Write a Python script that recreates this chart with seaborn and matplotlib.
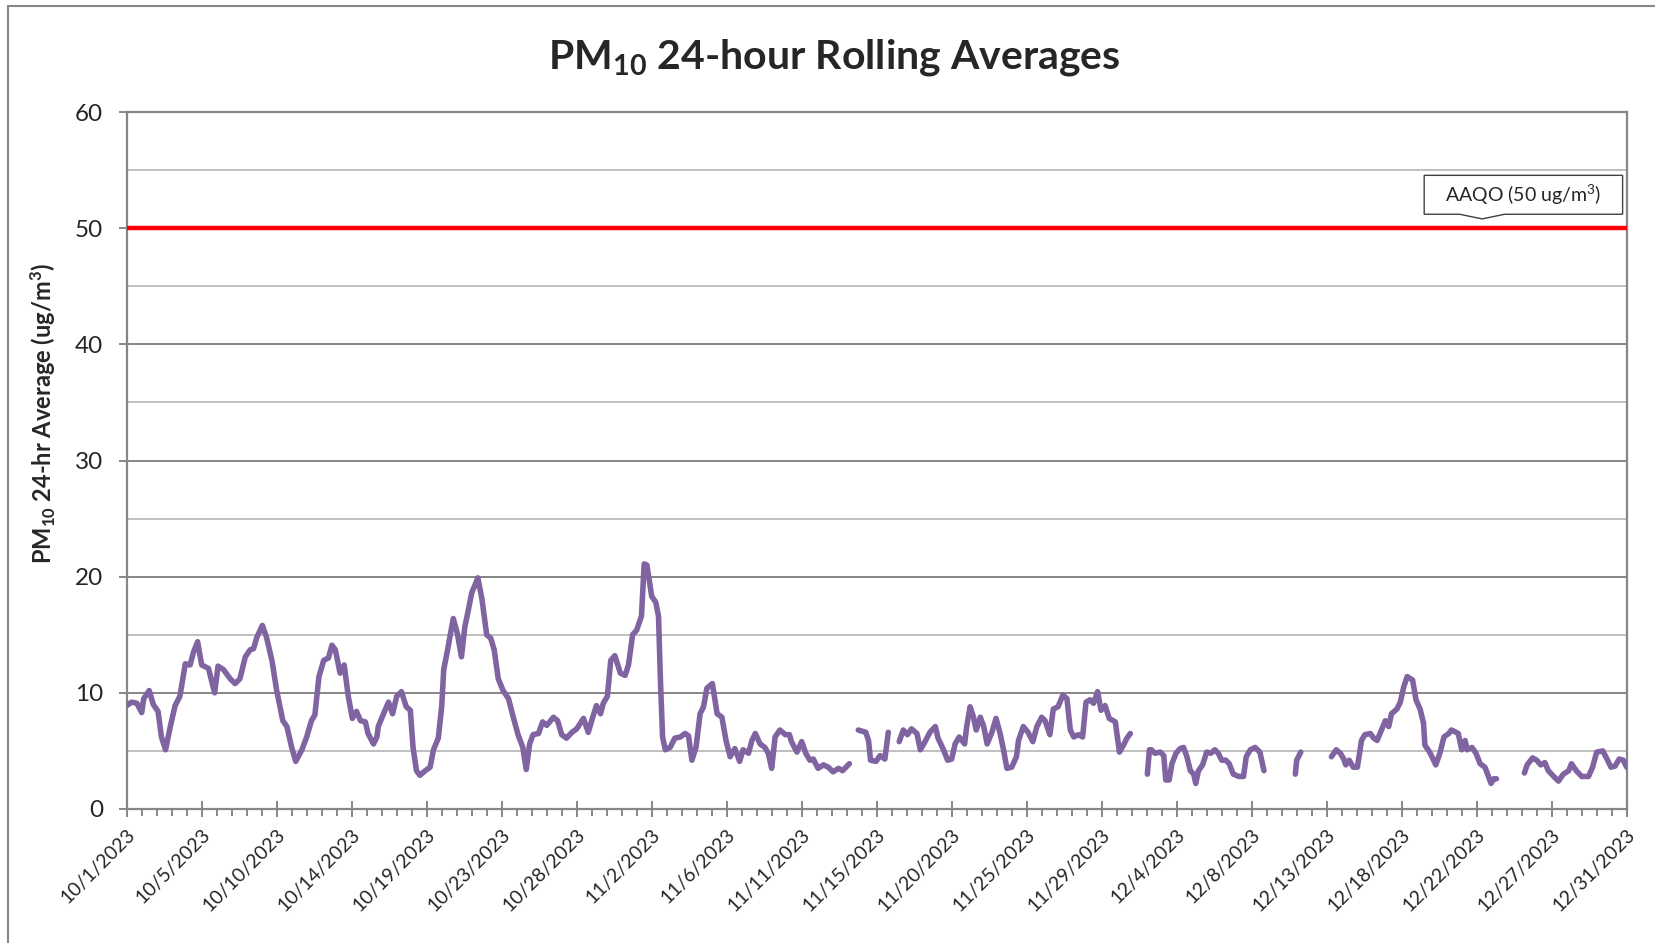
import numpy as np
import pandas as pd
import matplotlib
matplotlib.use("Agg")
import matplotlib.pyplot as plt
from matplotlib.lines import Line2D
from matplotlib.patches import Polygon
import seaborn as sns


# hours since 10/1/2023 00:00 -- NaN marks a break in the record
hours = [
    0, 7, 15, 22, 25, 33, 39, 46, 51, 57, 64, 71, 78, 86, 93, 98, 104, 110, 120, 129,
    134, 142, 152, 159, 166, 174, 181, 186, 191, 199, 205, 213, 220, 229, 235, 242, 248, 257, 264, 271,
    276, 282, 289, 296, 301, 306, 313, 319, 325, 331, 337, 343, 350, 354, 362, 367, 369, 376, 384, 390,
    396, 403, 410, 416, 420, 425, 430, 438, 445, 450, 457, 462, 465, 470, 476, 479, 485, 491, 496, 501,
    506, 511, 515, 521, 528, 534, 539, 545, 552, 560, 567, 574, 581, 586, 591, 596, 604, 610, 616, 626,
    632, 638, 645, 653, 660, 670, 677, 683, 689, 695, 699, 705, 710, 716, 724, 731, 736, 742, 748, 755,
    759, 763, 770, 776, 780, 783, 786, 790, 797, 804, 812, 819, 824, 829, 835, 841, 846, 851, 859, 866,
    873, 879, 885, 892, 899, 904, 912, 917, 922, 929, 936, 941, 946, 951, 958, 966, 972, 975, 983, 990,
    996, 1002, 1007, 1014, 1022, 1029, 1036, 1044, 1050, 1060, np.nan,
    1073, 1084, 1088, 1091, 1099, 1105, 1112, 1117, np.nan,
    1133, 1139, 1145, 1151, 1159, 1164, 1171, 1178, 1186, 1190, 1198, 1204, 1210, 1215, 1221, 1229, 1232, 1237, 1242, 1246,
    1252, 1257, 1262, 1269, 1275, 1281, 1286, 1291, 1298, 1305, 1308, 1315, 1322, 1329, 1335, 1342, 1347, 1354, 1359, 1366,
    1373, 1379, 1384, 1389, 1396, 1402, 1407, 1413, 1418, 1424, 1429, 1435, 1441, 1450, 1456, 1462, 1467, 1472, np.nan,
    1497, 1500, 1503, 1508, 1516, 1521, 1524, 1529, 1533, 1539, 1545, 1550, 1555, 1560, 1565, 1568, 1572, 1578, 1584, 1590,
    1596, 1601, 1606, 1612, 1617, 1623, 1631, 1638, 1642, 1648, 1655, 1662, 1668, np.nan,
    1714, 1716, 1722, np.nan,
    1767, 1774, 1780, 1785, 1788, 1793, 1799, 1805, 1809, 1811, 1816, 1824, 1829, 1834, 1841, 1846, 1851, 1855, 1863, 1868,
    1873, 1878, 1886, 1891, 1897, 1902, 1904, 1911, 1916, 1920, 1926, 1932, 1939, 1943, 1953, 1958, 1963, 1966, 1973, 1979,
    1985, 1992, 1996, 2001, 2005, 2009, np.nan,
    2050, 2054, 2062, 2068, 2074, 2080, 2085, 2093, 2100, 2107, 2115, 2119, 2126, 2134, 2144, 2150, 2156, 2165, 2172, 2177,
    2183, 2189, 2195, 2200,
]

pm10 = [
    8.9, 9.2, 9.1, 8.3, 9.5, 10.2, 9.0, 8.4, 6.2, 5.1, 7.1, 8.9, 9.7, 12.5, 12.4, 13.5, 14.4, 12.4, 12.1, 10.0,
    12.3, 12.0, 11.2, 10.8, 11.2, 13.1, 13.7, 13.8, 14.8, 15.8, 14.8, 12.8, 10.2, 7.6, 7.1, 5.3, 4.1, 5.1, 6.2, 7.6,
    8.1, 11.4, 12.8, 13.0, 14.1, 13.7, 11.7, 12.4, 9.7, 7.8, 8.4, 7.6, 7.5, 6.5, 5.6, 6.2, 7.1, 8.1, 9.2, 8.2,
    9.7, 10.1, 8.8, 8.5, 5.3, 3.3, 2.9, 3.3, 3.6, 5.1, 6.1, 8.8, 12.0, 13.5, 15.4, 16.4, 15.1, 13.1, 15.7, 17.1,
    18.6, 19.3, 19.9, 18.1, 15.0, 14.7, 13.7, 11.2, 10.2, 9.5, 7.9, 6.4, 5.3, 3.4, 5.6, 6.4, 6.5, 7.5, 7.2, 7.9,
    7.6, 6.4, 6.1, 6.6, 6.9, 7.8, 6.6, 7.8, 8.9, 8.2, 9.1, 9.7, 12.8, 13.2, 11.7, 11.5, 12.4, 15.0, 15.4, 16.6,
    21.1, 21.0, 18.3, 17.8, 16.6, 10.8, 6.2, 5.1, 5.3, 6.1, 6.2, 6.5, 6.3, 4.2, 5.3, 8.2, 8.8, 10.4, 10.8, 8.2,
    7.9, 5.9, 4.5, 5.2, 4.1, 5.1, 4.8, 5.9, 6.5, 5.6, 5.3, 4.8, 3.5, 6.2, 6.8, 6.4, 6.4, 5.8, 4.9, 5.8,
    4.8, 4.2, 4.3, 3.5, 3.8, 3.6, 3.2, 3.5, 3.3, 3.9, np.nan,
    6.8, 6.6, 5.9, 4.2, 4.1, 4.6, 4.3, 6.6, np.nan,
    5.8, 6.8, 6.4, 6.9, 6.5, 5.1, 5.8, 6.6, 7.1, 6.1, 5.1, 4.2, 4.3, 5.6, 6.2, 5.6, 7.1, 8.8, 7.9, 6.8,
    7.9, 7.1, 5.6, 6.6, 7.8, 6.5, 5.1, 3.5, 3.6, 4.5, 5.9, 7.1, 6.6, 5.8, 7.1, 7.9, 7.6, 6.4, 8.6, 8.8,
    9.8, 9.5, 6.8, 6.2, 6.4, 6.2, 9.2, 9.4, 9.1, 10.1, 8.5, 8.9, 7.8, 7.5, 4.9, 5.5, 6.1, 6.5, np.nan,
    3.0, 5.1, 5.1, 4.8, 4.9, 4.6, 2.5, 2.5, 3.9, 4.8, 5.2, 5.3, 4.5, 3.3, 3.0, 2.2, 3.3, 3.8, 4.9, 4.8,
    5.1, 4.8, 4.2, 4.2, 3.9, 3.0, 2.8, 2.8, 4.5, 5.1, 5.3, 4.9, 3.3, np.nan,
    3.0, 4.2, 4.9, np.nan,
    4.5, 5.1, 4.8, 4.3, 3.8, 4.2, 3.6, 3.6, 5.1, 5.9, 6.4, 6.5, 6.1, 5.9, 6.9, 7.6, 7.1, 8.2, 8.6, 9.2,
    10.5, 11.4, 11.1, 9.4, 8.6, 7.4, 5.5, 4.9, 4.3, 3.8, 4.8, 6.2, 6.5, 6.8, 6.5, 5.1, 5.9, 5.1, 5.3, 4.8,
    3.9, 3.6, 3.0, 2.2, 2.6, 2.6, np.nan,
    3.1, 3.8, 4.4, 4.2, 3.8, 4.0, 3.3, 2.8, 2.4, 3.0, 3.3, 3.9, 3.3, 2.8, 2.8, 3.6, 4.9, 5.0, 4.2, 3.6,
    3.7, 4.3, 4.2, 3.6,
]

tick_labels = ["10/1/2023", "10/5/2023", "10/10/2023", "10/14/2023", "10/19/2023", "10/23/2023",
               "10/28/2023", "11/2/2023", "11/6/2023", "11/11/2023", "11/15/2023", "11/20/2023",
               "11/25/2023", "11/29/2023", "12/4/2023", "12/8/2023", "12/13/2023", "12/18/2023",
               "12/22/2023", "12/27/2023", "12/31/2023"]
tick_every = 110      # hourly points between labelled categories
aaqo = 50


df = pd.DataFrame({"hour": hours, "pm10": pm10})
df["segment"] = df["pm10"].isna().cumsum()
df = df.dropna()

sns.set_theme(style="white")
plt.rcParams["font.family"] = ["Lato", "DejaVu Sans"]

fig = plt.figure(figsize=(16.56, 9.43), dpi=100)
ax = fig.add_axes([0.0765, 0.1421, 0.9058, 0.7391])

grey = "#868686"
ax.set_ylim(0, 60)
ax.set_yticks(range(0, 61, 10))
ax.set_yticks(range(5, 60, 10), minor=True)
ax.grid(True, which="major", axis="y", color=grey, lw=1.4, zorder=0)
ax.grid(True, which="minor", axis="y", color="#BFBFBF", lw=1.4, zorder=0)
ax.grid(False, axis="x")

ax.axhline(aaqo, color="#FF0000", lw=3.2, zorder=3)

sns.lineplot(data=df, x="hour", y="pm10", units="segment", estimator=None,
             color="#8064A2", lw=4.0, ax=ax, zorder=4)
for ln in ax.get_lines():
    ln.set_solid_capstyle("round")
    ln.set_solid_joinstyle("round")

ticks = np.arange(len(tick_labels)) * tick_every
ax.set_xlim(ticks[0], ticks[-1])
ax.set_xticks(ticks)
ax.set_xticks(np.arange(0, ticks[-1] + 1, tick_every / 5), minor=True)
ax.set_xticklabels(tick_labels, rotation=45, ha="right", rotation_mode="anchor")

ax.tick_params(axis="x", which="major", direction="inout", length=12, width=1.4,
               color=grey, labelsize=14, pad=6, bottom=True)
ax.tick_params(axis="x", which="minor", direction="out", length=5, width=1.4,
               color=grey, bottom=True)
ax.tick_params(axis="y", which="major", direction="out", length=6, width=1.4,
               color=grey, labelsize=17.5, pad=11, left=True)
ax.tick_params(axis="y", which="minor", left=False)

for s in ax.spines.values():
    s.set_color(grey)
    s.set_linewidth(1.6)

ax.set_xlabel("")
ax.set_ylabel(r"PM$\mathregular{_{10}}$ 24-hr Average (ug/m$\mathregular{^3}$)",
              fontsize=17, fontweight="bold")
ax.yaxis.set_label_coords(-0.046, 0.567)

fig.text(0.504, 0.927, r"PM$\mathregular{_{10}}$ 24-hour Rolling Averages",
         ha="center", va="baseline", fontsize=29.5, fontweight="bold")

# AAQO callout box with its small pointer notch on the bottom edge
bx0, bx1, by0, by1 = 1903, 2194, 51.2, 54.55
nx0, ntip, nx1, ny = 1955, 1988, 2021, 50.8
callout = Polygon([(bx0, by1), (bx1, by1), (bx1, by0), (nx1, by0), (ntip, ny),
                   (nx0, by0), (bx0, by0)], closed=True, fc="white", ec="#404040",
                  lw=1, zorder=5)
ax.add_patch(callout)
ax.text((bx0 + bx1) / 2, (by0 + by1) / 2, r"AAQO (50 ug/m$\mathregular{^3}$)",
        ha="center", va="center", fontsize=14, zorder=6)

# chart-area border (only left and top edges are visible in the source)
fig.add_artist(Line2D([0.0051, 0.0051], [0, 0.9936], transform=fig.transFigure,
                      color=grey, lw=1.5))
fig.add_artist(Line2D([0.0051, 1], [0.9936, 0.9936], transform=fig.transFigure,
                      color=grey, lw=1.5))

fig.savefig("out.png", dpi=100)
